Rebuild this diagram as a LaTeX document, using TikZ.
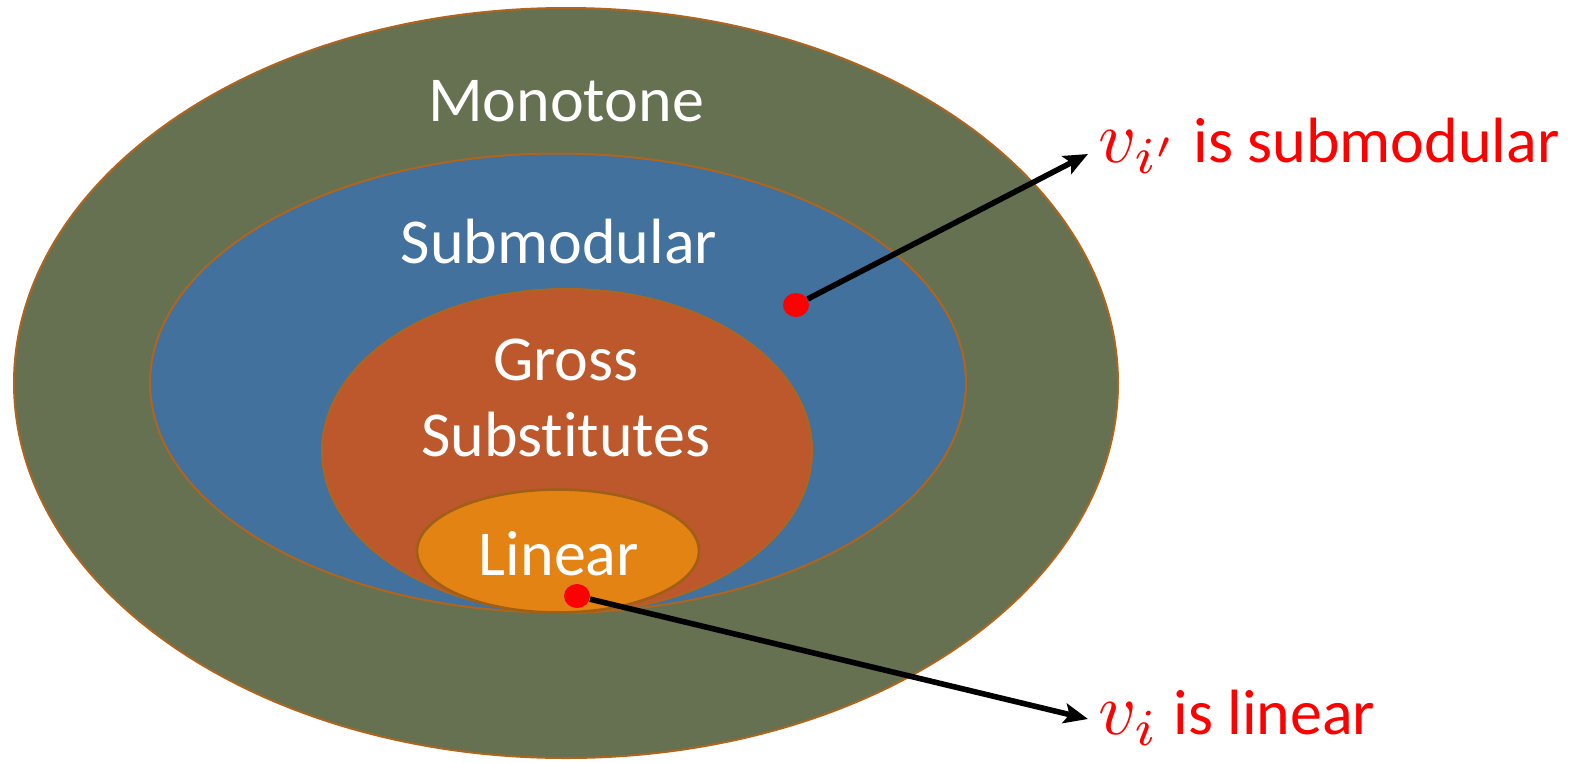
\documentclass[tikz,border=0pt]{standalone}
\usepackage{fontspec}
\usepackage{graphicx}
\setmainfont{Carlito}[Ligatures={NoCommon,NoContextual}]
\usetikzlibrary{shapes.geometric,arrows.meta}
\definecolor{olive}{RGB}{101,113,80}
\definecolor{steel}{RGB}{65,113,156}
\definecolor{rust}{RGB}{188,88,43}
\definecolor{amber}{RGB}{227,131,19}
\definecolor{rim}{RGB}{176,101,30}
\definecolor{rimdark}{RGB}{160,95,20}
\tikzset{
  setbox/.style={ellipse, draw=rim, line width=1pt, inner sep=0pt},
  lbl/.style={text=white, font=\fontsize{32}{38}\selectfont, align=center, inner sep=0pt},
  note/.style={text=red, font=\fontsize{32}{38}\selectfont, inner sep=0pt, anchor=west},
  dot/.style={ellipse, fill=red, inner sep=0pt, minimum width=13pt, minimum height=12pt},
  pointer/.style={line width=2.8pt, -{Stealth[length=12pt,width=10pt,inset=2.5pt]}}
}
\newcommand{\bigv}[1]{\scalebox{3.7}{\normalsize$v_{#1}$}}
\begin{document}
\begin{tikzpicture}[x=0.5pt,y=-0.5pt]
\useasboundingbox (0,0) rectangle (1580,762);
\node[setbox, fill=olive, minimum width=552pt, minimum height=375pt] (mono) at (566,383) {};
\node[setbox, fill=steel, minimum width=408pt, minimum height=229.5pt] (sub) at (558,383) {};
\node[setbox, fill=rust, minimum width=245pt, minimum height=162pt] (gs) at (567,451) {};
\node[setbox, fill=amber, draw=rimdark, line width=1.3pt, minimum width=141pt, minimum height=61.5pt] (lin) at (558,551) {};
\node[lbl] (tmono) at (566,101) {Monotone};
\node[lbl] (tsub) at (559,242) {Submodular};
\node[lbl] (tgs) at (566,398) {Gross\\Substitutes};
\node[lbl] (tlin) at (559,554) {Linear};
\node[dot] (d1) at (796,305) {};
\node[dot] (d2) at (577,596) {};
\coordinate (e1) at (1088,154);
\coordinate (e2) at (1088,719);
\draw[pointer] (d1) -- (e1);
\draw[pointer] (d2) -- (e2);
\node[note] (n1) at (1098,146) {\bigv{i'} is submodular};
\node[note] (n2) at (1098,718) {\bigv{i} is linear};
\end{tikzpicture}
\end{document}
